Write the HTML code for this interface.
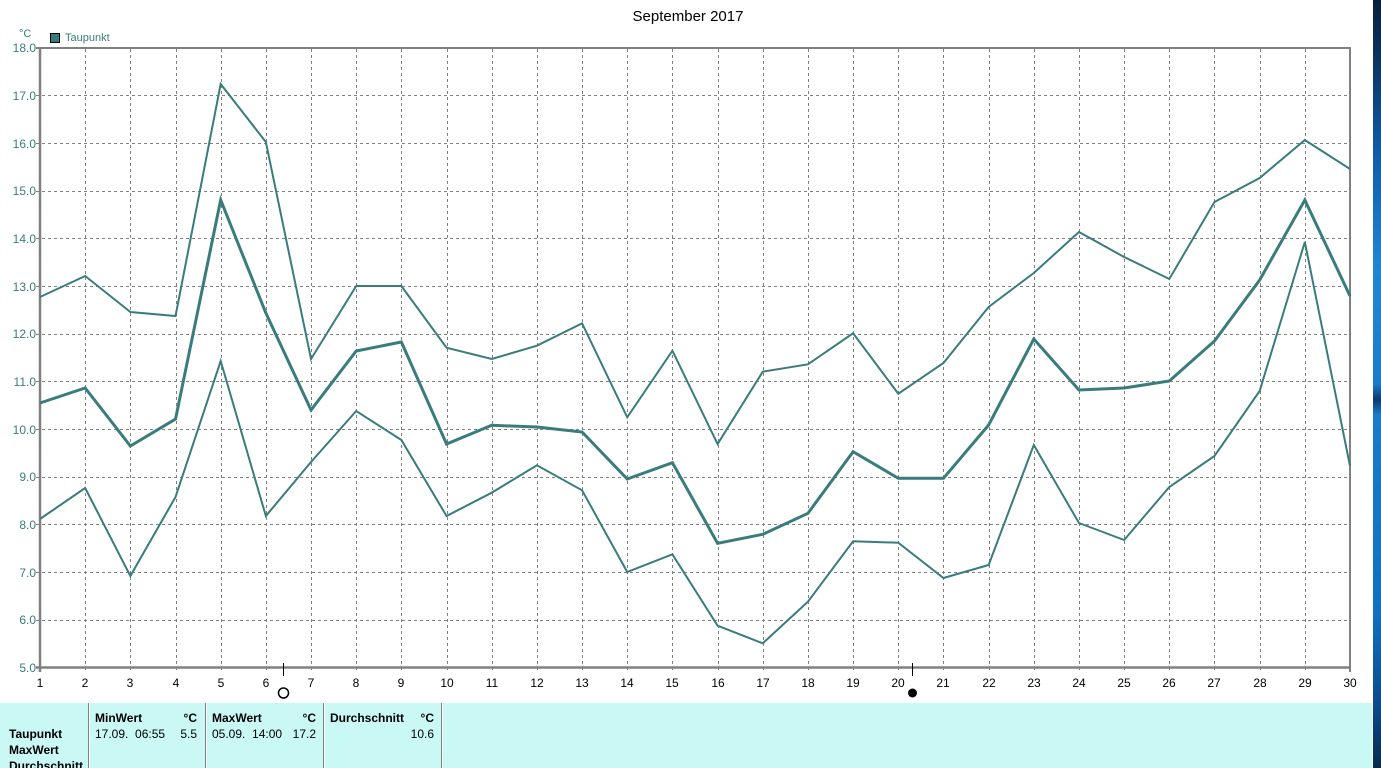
<!DOCTYPE html>
<html><head><meta charset="utf-8">
<style>
html,body{margin:0;padding:0;background:#fff;}
body{width:1381px;height:768px;overflow:hidden;position:relative;font-family:"Liberation Sans",sans-serif;}
svg{position:absolute;left:0;top:0;}
</style></head>
<body>
<svg width="1381" height="768" viewBox="0 0 1381 768" xmlns="http://www.w3.org/2000/svg">
<defs>
<linearGradient id="bg" x1="0" y1="0" x2="0" y2="1">
<stop offset="0" stop-color="#07203e"/>
<stop offset="0.08" stop-color="#0a3564"/>
<stop offset="0.2" stop-color="#0f5da8"/>
<stop offset="0.35" stop-color="#1f86d6"/>
<stop offset="0.5" stop-color="#1a7cc8"/>
<stop offset="0.52" stop-color="#0b3a6e"/>
<stop offset="0.54" stop-color="#1a7cc8"/>
<stop offset="0.8" stop-color="#1070c0"/>
<stop offset="0.92" stop-color="#0a4a8a"/>
<stop offset="1" stop-color="#062a50"/>
</linearGradient>
</defs>
<rect x="1373" y="0" width="8" height="768" fill="url(#bg)"/>

<text x="688" y="21" font-size="15" text-anchor="middle" fill="#000">September 2017</text>
<text x="19" y="37" font-size="11" fill="#3a7c7c">°C</text>
<rect x="50.5" y="33.5" width="9" height="9" fill="#3a7c7c" stroke="#000" stroke-width="1"/>
<text x="65" y="41" font-size="11" fill="#3a7c7c">Taupunkt</text>

<g stroke="#808080" stroke-width="1" stroke-dasharray="3,3" fill="none">
<line x1="36" y1="620.5" x2="1350" y2="620.5"/>
<line x1="36" y1="572.5" x2="1350" y2="572.5"/>
<line x1="36" y1="524.5" x2="1350" y2="524.5"/>
<line x1="36" y1="477.5" x2="1350" y2="477.5"/>
<line x1="36" y1="429.5" x2="1350" y2="429.5"/>
<line x1="36" y1="381.5" x2="1350" y2="381.5"/>
<line x1="36" y1="334.5" x2="1350" y2="334.5"/>
<line x1="36" y1="286.5" x2="1350" y2="286.5"/>
<line x1="36" y1="238.5" x2="1350" y2="238.5"/>
<line x1="36" y1="191.5" x2="1350" y2="191.5"/>
<line x1="36" y1="143.5" x2="1350" y2="143.5"/>
<line x1="36" y1="95.5" x2="1350" y2="95.5"/>
<line x1="85.5" y1="49" x2="85.5" y2="672"/>
<line x1="130.5" y1="49" x2="130.5" y2="672"/>
<line x1="176.5" y1="49" x2="176.5" y2="672"/>
<line x1="221.5" y1="49" x2="221.5" y2="672"/>
<line x1="266.5" y1="49" x2="266.5" y2="672"/>
<line x1="311.5" y1="49" x2="311.5" y2="672"/>
<line x1="356.5" y1="49" x2="356.5" y2="672"/>
<line x1="401.5" y1="49" x2="401.5" y2="672"/>
<line x1="447.5" y1="49" x2="447.5" y2="672"/>
<line x1="492.5" y1="49" x2="492.5" y2="672"/>
<line x1="537.5" y1="49" x2="537.5" y2="672"/>
<line x1="582.5" y1="49" x2="582.5" y2="672"/>
<line x1="627.5" y1="49" x2="627.5" y2="672"/>
<line x1="672.5" y1="49" x2="672.5" y2="672"/>
<line x1="718.5" y1="49" x2="718.5" y2="672"/>
<line x1="763.5" y1="49" x2="763.5" y2="672"/>
<line x1="808.5" y1="49" x2="808.5" y2="672"/>
<line x1="853.5" y1="49" x2="853.5" y2="672"/>
<line x1="898.5" y1="49" x2="898.5" y2="672"/>
<line x1="943.5" y1="49" x2="943.5" y2="672"/>
<line x1="989.5" y1="49" x2="989.5" y2="672"/>
<line x1="1034.5" y1="49" x2="1034.5" y2="672"/>
<line x1="1079.5" y1="49" x2="1079.5" y2="672"/>
<line x1="1124.5" y1="49" x2="1124.5" y2="672"/>
<line x1="1169.5" y1="49" x2="1169.5" y2="672"/>
<line x1="1214.5" y1="49" x2="1214.5" y2="672"/>
<line x1="1260.5" y1="49" x2="1260.5" y2="672"/>
<line x1="1305.5" y1="49" x2="1305.5" y2="672"/>
</g>

<g stroke="#808080" fill="none">
<line x1="36" y1="48" x2="1351" y2="48" stroke-width="2"/>
<line x1="36" y1="667.5" x2="1351" y2="667.5" stroke-width="2.5"/>
<line x1="40" y1="47" x2="40" y2="672" stroke-width="2.5"/>
<line x1="1350" y1="47" x2="1350" y2="672" stroke-width="2"/>
</g>

<g font-size="12" fill="#3a7c7c" text-anchor="end">
<text x="36" y="52">18.0</text>
<text x="36" y="100">17.0</text>
<text x="36" y="148">16.0</text>
<text x="36" y="195">15.0</text>
<text x="36" y="243">14.0</text>
<text x="36" y="291">13.0</text>
<text x="36" y="338">12.0</text>
<text x="36" y="386">11.0</text>
<text x="36" y="434">10.0</text>
<text x="36" y="481">9.0</text>
<text x="36" y="529">8.0</text>
<text x="36" y="577">7.0</text>
<text x="36" y="624">6.0</text>
<text x="36" y="672">5.0</text>
</g>

<g font-size="12" fill="#000" text-anchor="middle">
<text x="40" y="687">1</text>
<text x="85" y="687">2</text>
<text x="130" y="687">3</text>
<text x="176" y="687">4</text>
<text x="221" y="687">5</text>
<text x="266" y="687">6</text>
<text x="311" y="687">7</text>
<text x="356" y="687">8</text>
<text x="401" y="687">9</text>
<text x="447" y="687">10</text>
<text x="492" y="687">11</text>
<text x="537" y="687">12</text>
<text x="582" y="687">13</text>
<text x="627" y="687">14</text>
<text x="672" y="687">15</text>
<text x="718" y="687">16</text>
<text x="763" y="687">17</text>
<text x="808" y="687">18</text>
<text x="853" y="687">19</text>
<text x="898" y="687">20</text>
<text x="943" y="687">21</text>
<text x="989" y="687">22</text>
<text x="1034" y="687">23</text>
<text x="1079" y="687">24</text>
<text x="1124" y="687">25</text>
<text x="1169" y="687">26</text>
<text x="1214" y="687">27</text>
<text x="1260" y="687">28</text>
<text x="1305" y="687">29</text>
<text x="1350" y="687">30</text>
</g>

<line x1="283.5" y1="663" x2="283.5" y2="676" stroke="#000" stroke-width="1"/>
<circle cx="283.5" cy="693" r="5" fill="none" stroke="#000" stroke-width="1.5"/>
<line x1="912.5" y1="663" x2="912.5" y2="676" stroke="#000" stroke-width="1"/>
<circle cx="912.5" cy="693" r="4.5" fill="#000"/>

<g fill="none" stroke="#3a7c7c" stroke-linejoin="miter">
<polyline stroke-width="2" points="40,297 85.17,276 130.34,312 175.52,316 220.69,84 265.86,142 311.03,359 356.21,286 401.38,286 446.55,347.7 491.72,359 536.9,345.7 582.07,323.3 627.24,417.3 672.41,350.7 717.59,444 762.76,371.7 807.93,364.3 853.1,333.3 898.28,393.7 943.45,363 988.62,307 1033.79,273 1078.97,232 1124.14,257 1169.31,279 1214.48,202 1259.66,178 1304.83,140 1350,169"/>
<polyline stroke-width="3" points="40,403 85.17,388 130.34,446 175.52,419 220.69,200 265.86,313 311.03,410 356.21,351 401.38,342 446.55,444 491.72,425.3 536.9,427 582.07,432 627.24,479 672.41,462.7 717.59,543.3 762.76,534.3 807.93,513.3 853.1,451.7 898.28,478.3 943.45,478.3 988.62,425 1033.79,339 1078.97,390 1124.14,388 1169.31,381 1214.48,341 1259.66,280 1304.83,200 1350,296"/>
<polyline stroke-width="2" points="40,519 85.17,488 130.34,576 175.52,497 220.69,361 265.86,516 311.03,462 356.21,411 401.38,440 446.55,516 491.72,492.7 536.9,465.3 582.07,490.3 627.24,572 672.41,554.3 717.59,625.7 762.76,643.3 807.93,601.7 853.1,541.3 898.28,542.7 943.45,578 988.62,565 1033.79,445 1078.97,523 1124.14,540 1169.31,487 1214.48,456 1259.66,391 1304.83,242 1350,466"/>
</g>

<rect x="0" y="703" width="1372" height="65" fill="#c9f8f5"/>
<g stroke-width="1">
<line x1="88.5" y1="703" x2="88.5" y2="768" stroke="#808080"/>
<line x1="89.5" y1="703" x2="89.5" y2="768" stroke="#ffffff"/>
<line x1="205.5" y1="703" x2="205.5" y2="768" stroke="#808080"/>
<line x1="206.5" y1="703" x2="206.5" y2="768" stroke="#ffffff"/>
<line x1="323.5" y1="703" x2="323.5" y2="768" stroke="#808080"/>
<line x1="324.5" y1="703" x2="324.5" y2="768" stroke="#ffffff"/>
<line x1="441.5" y1="703" x2="441.5" y2="768" stroke="#808080"/>
<line x1="442.5" y1="703" x2="442.5" y2="768" stroke="#ffffff"/>
</g>
<g font-size="12" fill="#000">
<text x="95" y="722" font-weight="bold">MinWert</text>
<text x="197" y="722" font-weight="bold" text-anchor="end">°C</text>
<text x="212" y="722" font-weight="bold">MaxWert</text>
<text x="316" y="722" font-weight="bold" text-anchor="end">°C</text>
<text x="330" y="722" font-weight="bold">Durchschnitt</text>
<text x="434" y="722" font-weight="bold" text-anchor="end">°C</text>
<text x="9" y="738" font-weight="bold">Taupunkt</text>
<text x="9" y="754" font-weight="bold">MaxWert</text>
<text x="9" y="770" font-weight="bold">Durchschnitt</text>
<text x="95" y="738" xml:space="preserve">17.09.  06:55</text>
<text x="197" y="738" text-anchor="end">5.5</text>
<text x="212" y="738" xml:space="preserve">05.09.  14:00</text>
<text x="316" y="738" text-anchor="end">17.2</text>
<text x="434" y="738" text-anchor="end">10.6</text>
</g>
</svg>
</body></html>
